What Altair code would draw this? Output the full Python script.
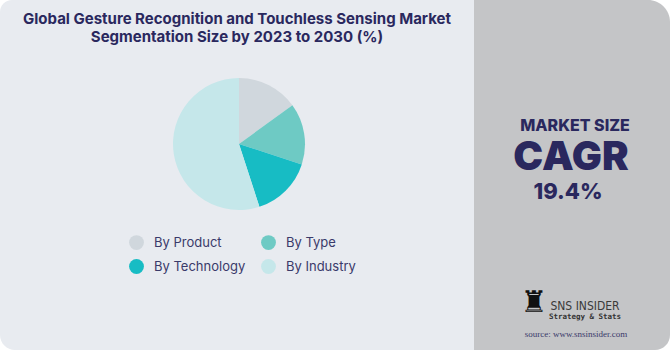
import altair as alt
import pandas as pd

# ---- data ----
segments = ["By Product", "By Type", "By Technology", "By Industry"]
shares = [15, 15, 15, 55]
colors = ["#d0d7dd", "#6ecac4", "#17bcc4", "#c5e7ea"]

title_lines = ["Global Gesture Recognition and Touchless Sensing Market",
               "Segmentation Size by 2023 to 2030 (%)"]
kpi_label = "MARKET SIZE"
kpi_name = "CAGR"
kpi_value = "19.4%"
brand = "SNS INSIDER"
brand_sub = "Strategy & Stats"
source = "source: www.snsinsider.com"

NAVY = "#2a285e"
one = pd.DataFrame({"k": [0]})
pie_df = pd.DataFrame({"segment": segments, "share": shares, "idx": list(range(len(segments)))})

left_bg = alt.Chart(one).mark_rect(
    color="#e8ebf0", cornerRadiusTopLeft=12, cornerRadiusBottomLeft=15
).encode(x=alt.value(0), x2=alt.value(490), y=alt.value(0), y2=alt.value(350))

right_bg = alt.Chart(one).mark_rect(
    color="#c4c5c7", cornerRadiusTopRight=22, cornerRadiusBottomRight=15
).encode(x=alt.value(474), x2=alt.value(670), y=alt.value(0), y2=alt.value(350))

pie = alt.Chart(pie_df).mark_arc(outerRadius=66, stroke=None).encode(
    theta=alt.Theta("share:Q", stack=True),
    color=alt.Color(
        "segment:N",
        scale=alt.Scale(domain=segments, range=colors),
        sort=segments,
        legend=alt.Legend(
            title=None, orient="none", legendX=129, legendY=235, columns=2,
            direction="horizontal",
            symbolType="circle", symbolSize=220, symbolStrokeWidth=0,
            labelFontSize=13, labelFont="Inter", labelColor="#3a3a6a",
            labelOffset=10, columnPadding=15, rowPadding=9,
        ),
    ),
    order=alt.Order("idx:Q"),
    x=alt.value(239),
    y=alt.value(144),
)

def txt(t, x, y, size, weight="bold", font="Inter", color=NAVY, align="center", baseline="middle"):
    return alt.Chart(pd.DataFrame({"t": [t]})).mark_text(
        fontSize=size, fontWeight=weight, font=font, color=color, align=align, baseline=baseline
    ).encode(text="t:N", x=alt.value(x), y=alt.value(y))

layers = [
    left_bg, right_bg, pie,
    txt(title_lines[0], 237, 19, 15, weight=700),
    txt(title_lines[1], 237, 37, 15, weight=700),
    txt(kpi_label, 575, 131, 16, weight=800, baseline="alphabetic"),
    txt(kpi_name, 571, 170, 40, weight=900, baseline="alphabetic"),
    txt(kpi_value, 568, 199, 22, weight=800, baseline="alphabetic"),
    txt("\u265c", 534, 303, 30, weight="normal", font="DejaVu Sans", color="#111111"),
    txt(brand, 585, 306, 12, weight="normal", font="DejaVu Sans Condensed", color="#3a3a3a"),
    txt(brand_sub, 585, 317, 7.5, weight="bold", font="DejaVu Sans Mono", color="#333333"),
    txt(source, 576, 334, 9, weight="normal", font="Liberation Serif", color="#3a3a6a"),
]

chart = alt.layer(*layers).properties(
    width=670, height=350,
    autosize=alt.AutoSizeParams(type="none"),
    padding=0, background="white",
).configure_view(stroke=None)

chart.save("out.html", embed_options={"renderer": "svg", "actions": False})
